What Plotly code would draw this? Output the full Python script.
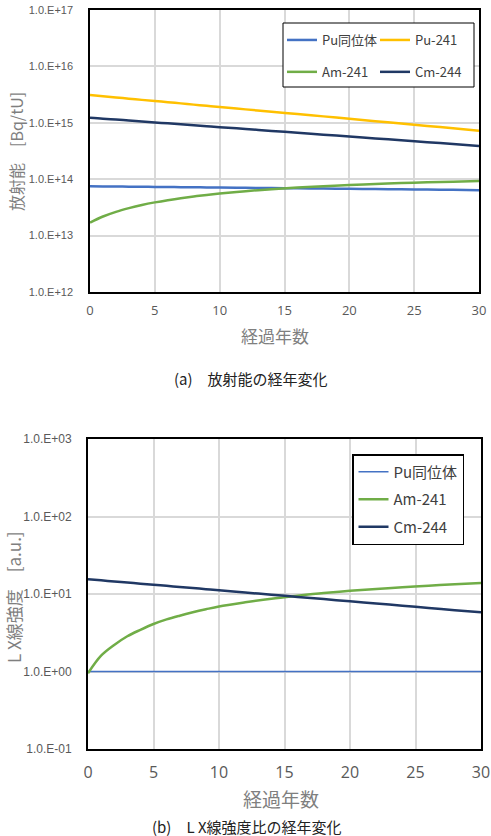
import plotly.graph_objects as go

# ---- data ----
years = [0, 1, 2, 3, 4, 5, 6, 7, 8, 9, 10, 12, 14, 16, 18, 20, 22, 24, 26, 28, 30]

# (a) activity [Bq/tU]
act_pu_iso = [7.50e13, 7.46e13, 7.42e13, 7.38e13, 7.34e13, 7.30e13, 7.26e13, 7.22e13, 7.19e13, 7.15e13,
              7.11e13, 7.04e13, 6.96e13, 6.89e13, 6.82e13, 6.75e13, 6.68e13, 6.61e13, 6.54e13, 6.47e13, 6.40e13]
act_pu241 = [3.10e15, 2.95e15, 2.81e15, 2.68e15, 2.55e15, 2.43e15, 2.32e15, 2.21e15, 2.10e15, 2.00e15,
             1.91e15, 1.73e15, 1.57e15, 1.43e15, 1.30e15, 1.18e15, 1.07e15, 9.70e14, 8.81e14, 8.00e14, 7.26e14]
act_am241 = [1.70e13, 2.18e13, 2.64e13, 3.07e13, 3.49e13, 3.88e13, 4.25e13, 4.61e13, 4.95e13, 5.27e13,
             5.57e13, 6.14e13, 6.64e13, 7.10e13, 7.51e13, 7.89e13, 8.22e13, 8.52e13, 8.79e13, 9.03e13, 9.30e13]
act_cm244 = [1.23e15, 1.18e15, 1.14e15, 1.10e15, 1.055e15, 1.015e15, 9.77e14, 9.40e14, 9.05e14, 8.71e14,
             8.38e14, 7.76e14, 7.19e14, 6.66e14, 6.17e14, 5.71e14, 5.29e14, 4.90e14, 4.54e14, 4.20e14, 3.89e14]

# (b) L X-ray intensity ratio [a.u.]
lx_pu_iso = [1.0] * len(years)
lx_am241 = [0.95, 1.6, 2.2, 2.85, 3.45, 4.1, 4.7, 5.25, 5.8, 6.35, 6.9, 7.8, 8.7, 9.5, 10.3, 11.0,
            11.6, 12.2, 12.8, 13.4, 13.9]
lx_cm244 = [15.5, 15.0, 14.5, 14.05, 13.6, 13.16, 12.74, 12.33, 11.93, 11.55, 11.17, 10.46, 9.80,
            9.18, 8.59, 8.05, 7.54, 7.06, 6.61, 6.19, 5.80]

names_a = ["Pu同位体", "Pu-241", "Am-241", "Cm-244"]
names_b = ["Pu同位体", "Am-241", "Cm-244"]

yticks_a = [1e12, 1e13, 1e14, 1e15, 1e16, 1e17]
yticktext_a = ["1.0.E+12", "1.0.E+13", "1.0.E+14", "1.0.E+15", "1.0.E+16", "1.0.E+17"]
yticks_b = [1e-1, 1e0, 1e1, 1e2, 1e3]
yticktext_b = ["1.0.E-01", "1.0.E+00", "1.0.E+01", "1.0.E+02", "1.0.E+03"]
xticks = [0, 5, 10, 15, 20, 25, 30]

C_BLUE = "#4472C4"
C_YEL = "#FFC000"
C_GRN = "#70AD47"
C_NAVY = "#203864"

W, H = 491, 836
def fx(px):
    return px / W
def fy(py):
    return 1 - py / H

fig = go.Figure()

# chart (a): two-column legend -> legend (left column) and legend3 (right column)
legend_of_a = ["legend", "legend3", "legend", "legend3"]
for i, (name, vals, col) in enumerate(zip(names_a, [act_pu_iso, act_pu241, act_am241, act_cm244],
                                          [C_BLUE, C_YEL, C_GRN, C_NAVY])):
    fig.add_trace(go.Scatter(x=years, y=vals, name=name, mode="lines",
                             line=dict(color=col, width=2.5, shape="spline"),
                             xaxis="x", yaxis="y", legend=legend_of_a[i],
                             legendgroup="a%d" % i))

for i, (name, vals, col, w) in enumerate(zip(names_b, [lx_pu_iso, lx_am241, lx_cm244],
                                             [C_BLUE, C_GRN, C_NAVY], [1.6, 2.5, 2.5])):
    fig.add_trace(go.Scatter(x=years, y=vals, name=name, mode="lines",
                             line=dict(color=col, width=w, shape="spline"),
                             xaxis="x2", yaxis="y2", legend="legend2",
                             legendgroup="b%d" % i))

TICK = "#595959"
FONT = "Noto Sans CJK JP"
axis_common = dict(showgrid=True, gridcolor="#D9D9D9", gridwidth=1.5,
                   showline=True, mirror=True, linecolor="black", zeroline=False,
                   ticks="")

leg_a_common = dict(xref="container", yref="container", xanchor="left", yanchor="top",
                    orientation="v", tracegroupgap=12, itemwidth=30,
                    borderwidth=0, bgcolor="rgba(0,0,0,0)",
                    font=dict(size=13, color="#404040", family=FONT))

fig.update_layout(
    width=W, height=H,
    margin=dict(l=0, r=0, t=0, b=0, autoexpand=False),
    paper_bgcolor="white", plot_bgcolor="white",
    font=dict(family=FONT, color=TICK),
    showlegend=True,
    xaxis=dict(domain=[fx(90), fx(479)], range=[0, 30], tickvals=xticks,
               tickfont=dict(size=13, color=TICK, family="Open Sans"), ticklabelstandoff=6,
               anchor="y", linewidth=1.5, **axis_common),
    yaxis=dict(domain=[fy(292), fy(10)], type="log", range=[12, 17], tickvals=yticks_a,
               ticktext=yticktext_a, tickfont=dict(size=11, color=TICK, family="Liberation Sans"),
               ticklabelstandoff=13, anchor="x", linewidth=1.5, **axis_common),
    xaxis2=dict(domain=[fx(88), fx(481)], range=[0, 30], tickvals=xticks,
                tickfont=dict(size=16, color=TICK, family="Open Sans"), ticklabelstandoff=8,
                anchor="y2", linewidth=2, **axis_common),
    yaxis2=dict(domain=[fy(749), fy(439)], type="log", range=[-1, 3], tickvals=yticks_b,
                ticktext=yticktext_b, tickfont=dict(size=12, color=TICK, family="Liberation Sans"),
                ticklabelstandoff=12, anchor="x2", linewidth=2, **axis_common),
    legend=dict(x=fx(282), y=fy(25), **leg_a_common),
    legend3=dict(x=fx(375), y=fy(25), **leg_a_common),
    legend2=dict(xref="container", yref="container",
                 x=fx(352), y=fy(454), xanchor="left", yanchor="top", orientation="v",
                 tracegroupgap=5, itemwidth=30,
                 bordercolor="black", borderwidth=1.5, bgcolor="white",
                 font=dict(size=15, color="#404040", family=FONT)),
)

# legend frame for chart (a)
fig.add_shape(type="rect", xref="paper", yref="paper",
              x0=fx(283), x1=fx(474), y0=fy(87), y1=fy(23),
              line=dict(color="black", width=1), fillcolor="white", layer="above")

ann = [
    dict(text="経過年数", x=fx(275), y=fy(335), font=dict(size=17, color="#7F7F7F")),
    dict(text="(a)　放射能の経年変化", x=fx(251), y=fy(378), font=dict(size=15, color="#222222")),
    dict(text="放射能　[Bq/tU]", x=fx(16), y=fy(152), textangle=-90, font=dict(size=16, color="#7F7F7F")),
    dict(text="経過年数", x=fx(281), y=fy(798), font=dict(size=19, color="#7F7F7F")),
    dict(text="(b)　L X線強度比の経年変化", x=fx(247), y=fy(826), font=dict(size=15, color="#222222")),
    dict(text="L X線強度　[a.u.]", x=fx(13), y=fy(597), textangle=-90, font=dict(size=17, color="#7F7F7F")),
]
for a in ann:
    fig.add_annotation(xref="paper", yref="paper", showarrow=False, xanchor="center", yanchor="middle",
                       font_family=FONT, **a)

fig.write_html("out.html")
